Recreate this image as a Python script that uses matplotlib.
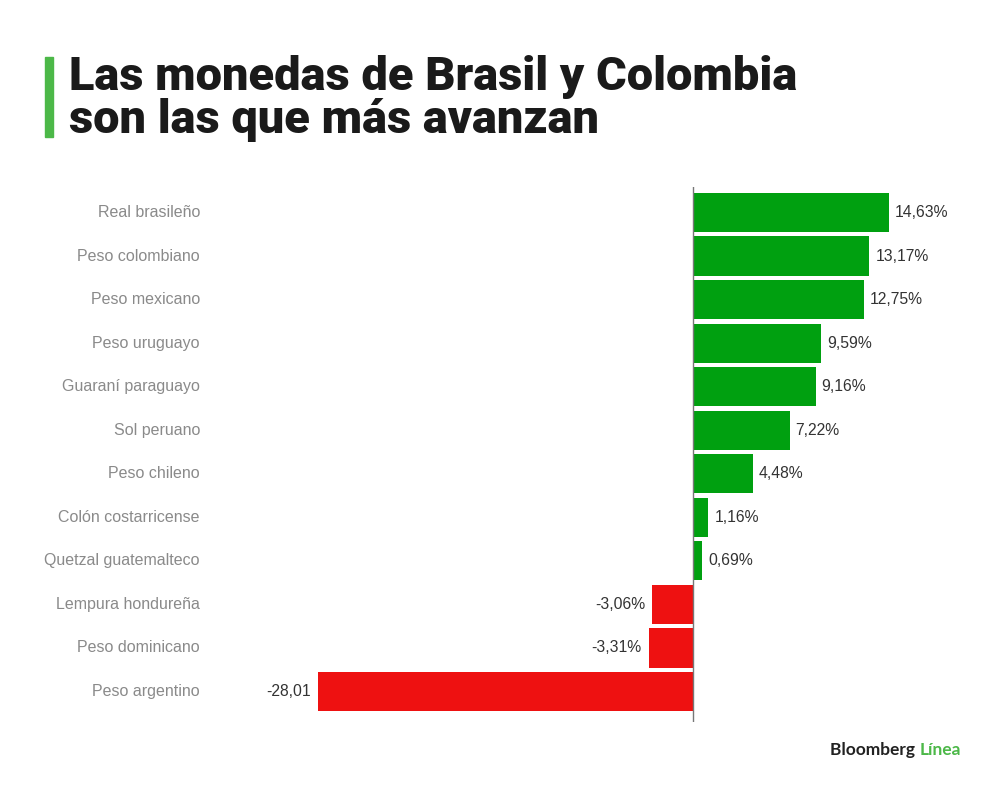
import matplotlib
matplotlib.use("Agg")
import matplotlib.pyplot as plt
from matplotlib.patches import Rectangle
from matplotlib.transforms import blended_transform_factory

categories = ["Real brasileño", "Peso colombiano", "Peso mexicano", "Peso uruguayo",
              "Guaraní paraguayo", "Sol peruano", "Peso chileno", "Colón costarricense",
              "Quetzal guatemalteco", "Lempura hondureña", "Peso dominicano", "Peso argentino"]
values = [14.63, 13.17, 12.75, 9.59, 9.16, 7.22, 4.48, 1.16, 0.69, -3.06, -3.31, -28.01]
value_labels = ["14,63%", "13,17%", "12,75%", "9,59%", "9,16%", "7,22%", "4,48%",
                "1,16%", "0,69%", "-3,06%", "-3,31%", "-28,01"]

GREEN = "#00a010"
RED = "#ee1111"
W, H = 1000, 790

fig = plt.figure(figsize=(W / 100, H / 100), dpi=100)
fig.patch.set_facecolor("white")

ax = fig.add_axes([230 / W, (H - 722) / H, (960 - 230) / W, (722 - 187) / H])
ypos = list(range(len(categories)))
colors = [GREEN if v >= 0 else RED for v in values]
ax.barh(ypos, values, height=0.9, color=colors, edgecolor="none", zorder=2)
ax.set_xlim(-34.55, 19.93)
ax.set_ylim(11.70, -0.585)
for s in ["top", "right", "bottom", "left"]:
    ax.spines[s].set_visible(False)
ax.set_xticks([])
ax.set_yticks([])
ax.axvline(0, color="#777777", lw=1.0, zorder=3)

font = "Liberation Sans"
for y, v, lab in zip(ypos, values, value_labels):
    if v >= 0:
        ax.annotate(lab, (v, y), xytext=(6, 0), textcoords="offset pixels",
                    ha="left", va="center", fontsize=11.3, color="#333333", family=font)
    else:
        ax.annotate(lab, (v, y), xytext=(-7, 0), textcoords="offset pixels",
                    ha="right", va="center", fontsize=11.3, color="#333333", family=font)

tr = blended_transform_factory(fig.transFigure, ax.transData)
for y, c in zip(ypos, categories):
    ax.text(200 / W, y, c, transform=tr, ha="right", va="center", fontsize=11.5,
            color="#8a8a8a", family=font)

fig.patches.append(Rectangle((45 / W, (H - 137) / H), 8 / W, 80 / H,
                             transform=fig.transFigure, color="#4cb848", figure=fig))
fig.text(69 / W, (H - 90) / H, "Las monedas de Brasil y Colombia", ha="left", va="baseline",
         fontsize=33.8, fontweight="black", color="#1a1a1a", family="Roboto")
fig.text(69 / W, (H - 133) / H, "son las que más avanzan", ha="left", va="baseline",
         fontsize=33.8, fontweight="black", color="#1a1a1a", family="Roboto")

t1 = fig.text(830 / W, (H - 750) / H, "Bloomberg ", ha="left", va="center",
              fontsize=12.5, fontweight="bold", color="#222222", family="Lato")
fig.canvas.draw()
bb = t1.get_window_extent()
fig.text(bb.x1 / W, (H - 750) / H, "Línea", ha="left", va="center",
         fontsize=12.5, fontweight="bold", color="#4cb848", family="Lato")

fig.savefig("out.png", dpi=100, facecolor="white")
